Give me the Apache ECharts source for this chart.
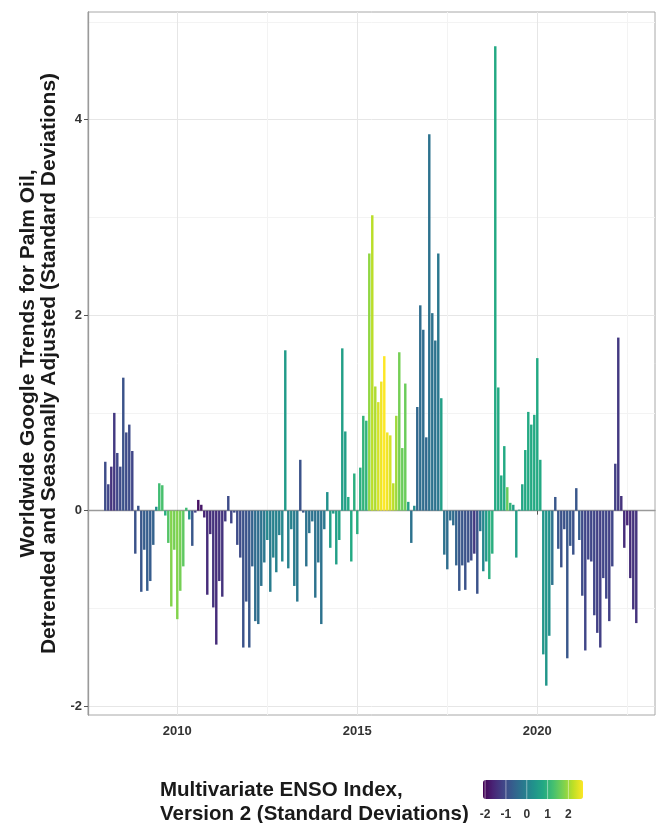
<!DOCTYPE html>
<html><head><meta charset="utf-8">
<script src="https://cdn.jsdelivr.net/npm/echarts@6/dist/echarts.min.js"></script>
<style>html,body{margin:0;padding:0;background:#fff}#c{width:659px;height:823px}</style>
</head><body><div id="c"></div>
<script>
// Monthly series, starting January 2008
const firstYear = 2008;
const trends = [
  0.50, 0.27, 0.45, 1.00, 0.59, 0.45, 1.36, 0.80, 0.88, 0.61,
  -0.44, 0.05, -0.83, -0.40, -0.82, -0.72, -0.35, 0.04, 0.28, 0.26,
  -0.05, -0.33, -0.98, -0.40, -1.11, -0.82, -0.57, 0.03, -0.09, -0.36,
  -0.02, 0.11, 0.06, -0.07, -0.86, -0.24, -0.99, -1.37, -0.72, -0.88,
  -0.11, 0.15, -0.13, -0.02, -0.35, -0.48, -1.40, -0.93, -1.40, -0.57,
  -1.13, -1.16, -0.77, -0.53, -0.30, -0.83, -0.48, -0.63, -0.25, -0.52,
  1.64, -0.59, -0.19, -0.77, -0.93, 0.52, -0.02, -0.57, -0.23, -0.11,
  -0.89, -0.53, -1.16, -0.19, 0.19, -0.38, -0.03, -0.55, -0.30, 1.66,
  0.81, 0.14, -0.52, 0.38, -0.24, 0.44, 0.97, 0.92, 2.63, 3.02,
  1.27, 1.11, 1.32, 1.58, 0.80, 0.77, 0.28, 0.97, 1.62, 0.64,
  1.30, 0.09, -0.33, 0.05, 1.06, 2.10, 1.85, 0.75, 3.85, 2.02,
  1.74, 2.63, 1.15, -0.45, -0.60, -0.10, -0.15, -0.56, -0.82, -0.56,
  -0.81, -0.53, -0.51, -0.44, -0.85, -0.21, -0.62, -0.52, -0.70, -0.44,
  4.75, 1.26, 0.36, 0.66, 0.24, 0.08, 0.06, -0.48, 0.01, 0.27,
  0.62, 1.01, 0.88, 0.98, 1.56, 0.52, -1.47, -1.79, -1.28, -0.76,
  0.14, -0.39, -0.58, -0.19, -1.51, -0.36, -0.45, 0.23, -0.30, -0.87,
  -1.43, -0.50, -0.52, -1.07, -1.25, -1.40, -0.69, -0.90, -1.13, -0.57,
  0.48, 1.77, 0.15, -0.38, -0.15, -0.69, -1.01, -1.15
];
const mei = [
  -1.0, -1.1, -1.4, -1.3, -1.1, -1.0, -0.9, -1.0, -1.0, -1.1,
  -0.9, -0.9, -0.8, -0.7, -0.7, -0.7, -0.6, 0.2, 1.2, 1.3,
  0.9, 1.4, 1.8, 1.7, 1.8, 1.7, 1.5, 1.2, 0.3, -0.8,
  -1.2, -1.9, -1.8, -1.6, -1.5, -1.5, -1.4, -1.5, -1.4, -1.4,
  -1.3, -1.0, -1.1, -1.0, -1.0, -1.0, -0.9, -0.9, -0.8, -0.6,
  -0.4, -0.4, -0.3, -0.2, 0.1, -0.1, 0.0, 0.0, 0.0, 0.1,
  0.5, 0.0, 0.0, -0.1, -0.2, -0.9, -0.8, -0.3, -0.3, -0.3,
  -0.3, -0.3, -0.3, -0.2, 0.3, 0.6, 0.5, 0.6, 0.7, 0.6,
  0.6, 0.8, 0.8, 0.9, 0.9, 0.9, 1.0, 1.0, 1.9, 2.2,
  2.1, 2.4, 2.6, 2.7, 2.6, 2.4, 2.2, 2.0, 1.7, 1.6,
  1.6, 0.6, -0.3, 0.2, -0.5, -0.4, -0.4, -0.5, -0.3, -0.3,
  -0.3, -0.2, 0.6, -0.3, -0.4, -0.4, -0.4, -0.6, -0.8, -0.8,
  -0.9, -0.9, -1.0, -1.3, -0.9, -0.2, 0.1, 0.5, 0.9, 0.9,
  0.8, 0.8, 0.8, 0.8, 1.6, 1.0, 0.6, 0.6, 0.6, 0.7,
  0.8, 0.8, 0.8, 0.8, 0.8, 0.8, 0.4, 0.4, 0.3, -0.3,
  -0.8, -0.8, -0.9, -0.9, -0.8, -0.8, -0.9, -0.8, -0.7, -1.0,
  -1.1, -1.1, -1.1, -1.1, -1.2, -1.2, -1.1, -1.1, -1.2, -1.1,
  -1.2, -1.3, -1.4, -1.5, -1.6, -1.5, -1.4, -1.4
];
const xMajorTicks = [2010, 2015, 2020];
const xMinorTicks = [2007.5, 2012.5, 2017.5, 2022.5];
const yMajorTicks = [-2, 0, 2, 4];
const yMinorTicks = [-1, 1, 3, 5];
const legendTicks = [-2, -1, 0, 1, 2];
const meiRange = [-2.1, 2.7];
const viridis = ['#440154','#482475','#414487','#355f8d','#2a788e','#21918c','#22a884','#44bf70','#7ad151','#bddf26','#fde725'];

const FONT = '"Liberation Sans", Arial, Helvetica, sans-serif';
const data = trends.map((v, i) => [firstYear + i / 12, v, mei[i]]);

const xRange = [2007.52, 2023.27];
const yRange = [-2.09, 5.10];
const grid = { left: 88, top: 12, right: 4, bottom: 108 };

const chart = echarts.init(document.getElementById('c'), null, { renderer: 'canvas' });

// colorbar geometry (legend)
const cb = { left: 483, top: 780, width: 100, height: 19 };
const cbX = v => cb.left + (v - meiRange[0]) / (meiRange[1] - meiRange[0]) * cb.width;

const graphics = [
  { type: 'text', left: 160, top: 778, style: { text: 'Multivariate ENSO Index,\nVersion 2 (Standard Deviations)', font: 'bold 20.5px ' + FONT, fill: '#1a1a1a', lineHeight: 24 } }
];
legendTicks.forEach(t => {
  graphics.push({ type: 'text', x: cbX(t), y: 815, style: { text: String(t), font: 'bold 12px ' + FONT, fill: '#333', textAlign: 'center', textVerticalAlign: 'middle' } });
  graphics.push({ type: 'line', shape: { x1: cbX(t), y1: cb.top, x2: cbX(t), y2: cb.top + cb.height }, style: { stroke: 'rgba(255,255,255,0.45)', lineWidth: 1 }, z: 100 });
});

const option = {
  animation: false,
  backgroundColor: '#fff',
  grid: Object.assign({ show: true, borderColor: '#a8a8a8', borderWidth: 1, backgroundColor: 'transparent' }, grid),
  xAxis: [
    {
      type: 'value', min: xRange[0], max: xRange[1],
      axisLine: { show: true, lineStyle: { color: '#9a9a9a', width: 1.3 } },
      axisTick: { show: true, length: 4, lineStyle: { color: '#555' }, customValues: xMajorTicks },
      axisLabel: { customValues: xMajorTicks, formatter: v => String(v), color: '#333', fontWeight: 'bold', fontSize: 13, fontFamily: FONT, margin: 10 },
      splitLine: { show: true, lineStyle: { color: '#e6e6e6', width: 1 } }
    },
    {
      type: 'value', min: xRange[0], max: xRange[1], position: 'bottom',
      axisLine: { show: false },
      axisTick: { show: false, customValues: xMinorTicks },
      axisLabel: { show: false, customValues: xMinorTicks },
      splitLine: { show: true, lineStyle: { color: '#f3f3f3', width: 1 } }
    }
  ],
  yAxis: [
    {
      type: 'value', min: yRange[0], max: yRange[1],
      name: 'Worldwide Google Trends for Palm Oil,\nDetrended and Seasonally Adjusted (Standard Deviations)',
      nameLocation: 'middle', nameRotate: 90, nameGap: 26,
      nameTextStyle: { fontFamily: FONT, fontWeight: 'bold', fontSize: 21, color: '#1a1a1a', lineHeight: 21 },
      axisLine: { show: true, lineStyle: { color: '#9a9a9a', width: 1.3 } },
      axisTick: { show: true, length: 4, lineStyle: { color: '#555' }, customValues: yMajorTicks },
      axisLabel: { customValues: yMajorTicks, formatter: v => String(v), color: '#333', fontWeight: 'bold', fontSize: 13, fontFamily: FONT, margin: 6 },
      splitLine: { show: true, lineStyle: { color: '#e6e6e6', width: 1 } }
    },
    {
      type: 'value', min: yRange[0], max: yRange[1], position: 'left',
      axisLine: { show: false },
      axisTick: { show: false, customValues: yMinorTicks },
      axisLabel: { show: false, customValues: yMinorTicks },
      splitLine: { show: true, lineStyle: { color: '#f3f3f3', width: 1 } }
    }
  ],
  visualMap: {
    type: 'continuous', dimension: 2, min: meiRange[0], max: meiRange[1],
    inRange: { color: viridis },
    orient: 'horizontal', left: cb.left, top: cb.top, itemWidth: cb.height, itemHeight: cb.width,
    calculable: false, text: null, showLabel: false, padding: 0, seriesIndex: 0
  },
  graphic: graphics,
  series: [{
    type: 'bar', xAxisIndex: 0, yAxisIndex: 0,
    data: data, barWidth: 2.45,
    itemStyle: { borderWidth: 0 },
    z: 5
  }]
};
chart.setOption(option);
</script>
</body></html>
